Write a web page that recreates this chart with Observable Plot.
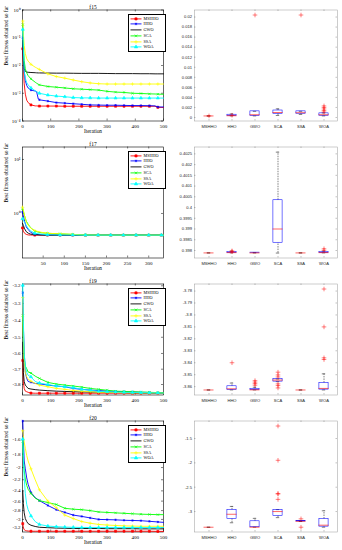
<!DOCTYPE html>
<html><head><meta charset="utf-8">
<script src="https://cdn.jsdelivr.net/npm/d3@7"></script>
<script src="https://cdn.jsdelivr.net/npm/@observablehq/plot@0.6"></script>
<style>
html,body{margin:0;padding:0;background:#fff;}
#root{position:relative;width:342px;height:550px;overflow:hidden;background:#fff;}
.legend{position:absolute;background:#fff;border:0.6px solid #000;font-family:"Liberation Serif",serif;font-size:4.2px;box-sizing:border-box;padding:0.5px 1px;}
.legend .row{display:flex;align-items:center;height:5.8px;}
.legend span{margin-left:1.5px;line-height:5.8px;}
</style></head><body><div id="root"></div>
<script>
// ---------------- data ----------------
const algos = ["MSHHO","HHO","GWO","SCA","SSA","WOA"];
const colors = ["#ff0000","#0000ff","#000000","#00ff00","#ffff00","#00ffff"];
const symbols = ["square","asterisk",null,"times","plus","triangle"];
const filled = [true,false,false,false,false,true];

// convergence curves
const f15Iter = [1,3,6,10,15,20,30,45,50,56,60,90,120,150,180,210,240,270,300,330,360,390,420,450,470,480,500];
const f15MSHHO = [0.04,0.0087,0.0022,9.3e-4,5.6e-4,4.6e-4,3.8e-4,3.5e-4,3.5e-4,3.45e-4,3.45e-4,3.45e-4,3.45e-4,3.4e-4,3.4e-4,3.4e-4,3.4e-4,3.4e-4,3.4e-4,3.4e-4,3.4e-4,3.4e-4,3.4e-4,3.4e-4,3.4e-4,3.1e-4,3.07e-4];
const f15HHO = [0.1,0.02,6.3e-3,2.85e-3,1.9e-3,1.55e-3,1.3e-3,1.2e-3,1.15e-3,6.2e-4,5.8e-4,5.2e-4,4.6e-4,4.4e-4,4.2e-4,4.0e-4,3.8e-4,3.75e-4,3.7e-4,3.7e-4,3.65e-4,3.6e-4,3.6e-4,3.55e-4,3.5e-4,3.2e-4,3.2e-4];
const f15GWO = [0.08,0.015,7.6e-3,6.2e-3,5.8e-3,5.7e-3,5.6e-3,5.5e-3,5.45e-3,5.4e-3,5.4e-3,5.35e-3,5.3e-3,5.3e-3,5.25e-3,5.2e-3,5.2e-3,5.2e-3,5.15e-3,5.1e-3,5.1e-3,5.1e-3,5.05e-3,5.05e-3,5.0e-3,5.0e-3,5.0e-3];
const f15SCA = [0.3,0.06,0.015,7.6e-3,5.4e-3,4.3e-3,3.3e-3,2.5e-3,2.3e-3,2.1e-3,2.0e-3,1.75e-3,1.65e-3,1.55e-3,1.45e-3,1.4e-3,1.35e-3,1.3e-3,1.17e-3,1.1e-3,1.07e-3,1.0e-3,9.8e-4,9.5e-4,9.4e-4,9.3e-4,9.2e-4];
const f15SSA = [0.4,0.14,0.053,0.027,0.0175,0.0144,0.011,8.7e-3,8.2e-3,7.6e-3,7.2e-3,5.0e-3,4.0e-3,3.5e-3,3.0e-3,2.6e-3,2.35e-3,2.2e-3,2.15e-3,2.15e-3,2.15e-3,2.15e-3,2.15e-3,2.15e-3,2.15e-3,2.15e-3,2.15e-3];
const f15WOA = [0.2,0.04,6e-3,3.5e-3,2.4e-3,2.0e-3,1.55e-3,1.23e-3,1.15e-3,1.05e-3,1.0e-3,8.6e-4,7.9e-4,7.5e-4,7.0e-4,6.8e-4,6.8e-4,6.7e-4,6.7e-4,6.7e-4,6.7e-4,6.7e-4,6.7e-4,6.7e-4,6.7e-4,6.7e-4,6.7e-4];

const f17Iter = [1,3,6,10,15,20,30,45,60,90,120,150,180,210,240,270,300,330,335];
const f17MSHHO = [0.54,0.47,0.43,0.41,0.40,0.399,0.398,0.398,0.398,0.398,0.398,0.398,0.398,0.398,0.398,0.398,0.398,0.398,0.398];
const f17HHO = [1.06,0.9,0.72,0.56,0.5,0.45,0.41,0.405,0.40,0.399,0.398,0.398,0.398,0.398,0.398,0.398,0.398,0.398,0.398];
const f17GWO = [0.66,0.6,0.52,0.46,0.43,0.415,0.405,0.40,0.399,0.398,0.398,0.398,0.398,0.398,0.398,0.398,0.398,0.398,0.398];
const f17SCA = [1.22,1.1,0.9,0.72,0.62,0.55,0.47,0.44,0.43,0.42,0.41,0.40,0.399,0.398,0.398,0.398,0.398,0.398,0.398];
const f17SSA = [1.31,1.15,0.9,0.69,0.6,0.54,0.48,0.45,0.43,0.42,0.41,0.40,0.399,0.398,0.398,0.398,0.398,0.398,0.398];
const f17WOA = [0.8,0.75,0.68,0.6,0.52,0.48,0.43,0.415,0.405,0.40,0.399,0.398,0.398,0.398,0.398,0.398,0.398,0.398,0.398];

const iter500 = [1,3,6,10,15,20,30,45,60,90,120,150,180,210,240,270,300,330,360,390,420,450,480,500];
const f19MSHHO = [-3.644,-3.782,-3.826,-3.844,-3.848,-3.852,-3.857,-3.858,-3.858,-3.858,-3.858,-3.858,-3.858,-3.858,-3.858,-3.858,-3.858,-3.858,-3.858,-3.858,-3.858,-3.858,-3.858,-3.858];
const f19HHO = [-3.238,-3.43,-3.59,-3.72,-3.76,-3.78,-3.785,-3.793,-3.795,-3.804,-3.81,-3.815,-3.826,-3.832,-3.837,-3.84,-3.844,-3.846,-3.848,-3.85,-3.852,-3.853,-3.855,-3.856];
const f19GWO = [-3.53,-3.72,-3.782,-3.804,-3.815,-3.826,-3.83,-3.834,-3.837,-3.841,-3.844,-3.846,-3.848,-3.849,-3.85,-3.851,-3.852,-3.853,-3.854,-3.855,-3.855,-3.856,-3.856,-3.857];
const f19SCA = [-3.371,-3.53,-3.634,-3.68,-3.697,-3.718,-3.725,-3.745,-3.76,-3.786,-3.797,-3.804,-3.81,-3.817,-3.826,-3.832,-3.838,-3.844,-3.846,-3.848,-3.85,-3.852,-3.854,-3.855];
const f19SSA = [-3.266,-3.47,-3.634,-3.72,-3.75,-3.765,-3.778,-3.793,-3.804,-3.815,-3.826,-3.832,-3.84,-3.844,-3.848,-3.852,-3.852,-3.853,-3.854,-3.855,-3.855,-3.856,-3.856,-3.857];
const f19WOA = [-3.197,-3.40,-3.60,-3.68,-3.72,-3.74,-3.75,-3.78,-3.79,-3.80,-3.81,-3.815,-3.82,-3.832,-3.838,-3.845,-3.848,-3.85,-3.852,-3.853,-3.854,-3.855,-3.856,-3.857];

const f20MSHHO = [-3.10,-3.20,-3.25,-3.27,-3.28,-3.285,-3.29,-3.29,-3.29,-3.29,-3.29,-3.29,-3.29,-3.29,-3.29,-3.29,-3.29,-3.29,-3.29,-3.29,-3.29,-3.29,-3.295,-3.295];
const f20HHO = [-1.39,-1.60,-1.90,-2.02,-2.17,-2.28,-2.43,-2.53,-2.59,-2.69,-2.78,-2.84,-2.90,-2.93,-2.965,-3.00,-3.005,-3.01,-3.02,-3.025,-3.03,-3.045,-3.06,-3.07];
const f20GWO = [-2.40,-2.65,-2.85,-2.98,-3.05,-3.10,-3.14,-3.17,-3.19,-3.20,-3.21,-3.215,-3.22,-3.22,-3.22,-3.22,-3.225,-3.225,-3.225,-3.225,-3.23,-3.23,-3.23,-3.23];
const f20SCA = [-1.63,-1.85,-2.05,-2.19,-2.30,-2.37,-2.45,-2.54,-2.59,-2.63,-2.67,-2.75,-2.77,-2.78,-2.80,-2.83,-2.84,-2.85,-2.86,-2.87,-2.88,-2.885,-2.89,-2.89];
const f20SSA = [-1.50,-1.56,-1.64,-1.72,-1.82,-1.90,-2.02,-2.20,-2.38,-2.60,-2.74,-2.90,-2.98,-3.05,-3.09,-3.12,-3.135,-3.145,-3.155,-3.16,-3.165,-3.165,-3.165,-3.165];
const f20WOA = [-1.60,-1.85,-2.17,-2.45,-2.67,-2.78,-2.92,-3.05,-3.12,-3.16,-3.175,-3.185,-3.19,-3.195,-3.195,-3.195,-3.195,-3.195,-3.195,-3.195,-3.195,-3.195,-3.195,-3.195];

// axis ticks (convergence)
const xTicks500 = [0,100,200,300,400,500];
const xTicksF17 = [50,100,150,200,250,300];
const f15YTicks = [1e-4,1e-3,1e-2,1e-1,1];
const f17YTicks = [1,10];
const f19YTicks = [-3.8,-3.7,-3.6,-3.5,-3.4,-3.3,-3.2];
const f20YTicks = [-3.2,-3,-2.8,-2.6,-2.4,-2.2,-2,-1.8,-1.6];

// box plot statistics
const f15Q1  = [0.000307,0.00031,0.00031,0.00072,0.00075,0.00035];
const f15Med = [0.000307,0.00035,0.00055,0.00099,0.00095,0.00055];
const f15Q3  = [0.000307,0.00055,0.00122,0.00139,0.00122,0.00082];
const f15Lo  = [0.000307,0.00031,0.00031,0.0004,0.0006,0.00031];
const f15Hi  = [0.000307,0.0007,0.00122,0.00172,0.00122,0.0009];
const f15OutAlgo = ["MSHHO","HHO","GWO","SSA","WOA","WOA","WOA","WOA","WOA"];
const f15OutVal  = [0.00031,0.00045,0.0204,0.0204,0.0011,0.0014,0.0017,0.002,0.0023];
const f15BoxTicks = [0,0.002,0.004,0.006,0.008,0.01,0.012,0.014,0.016,0.018,0.02];

const f17Q1  = [0.397887,0.397887,0.397887,0.39836,0.397887,0.397887];
const f17Med = [0.397887,0.3979,0.397887,0.399,0.397887,0.3979];
const f17Q3  = [0.397887,0.39793,0.3979,0.40034,0.397887,0.39794];
const f17Lo  = [0.397887,0.397887,0.397887,0.39788,0.397887,0.397887];
const f17Hi  = [0.397887,0.39797,0.3979,0.40258,0.397887,0.39797];
const f17OutAlgo = ["HHO","HHO","WOA","WOA"];
const f17OutVal  = [0.39798,0.39795,0.39808,0.39801];
const f17BoxTicks = [0.398,0.3985,0.399,0.3995,0.4,0.4005,0.401,0.4015,0.402,0.4025];

const f19Q1  = [-3.8628,-3.8628,-3.8628,-3.8558,-3.8628,-3.8625];
const f19Med = [-3.8628,-3.8618,-3.8627,-3.8545,-3.8628,-3.8615];
const f19Q3  = [-3.8628,-3.8597,-3.8618,-3.8536,-3.8628,-3.8569];
const f19Lo  = [-3.8628,-3.8628,-3.8628,-3.8558,-3.8628,-3.8628];
const f19Hi  = [-3.8628,-3.857,-3.8605,-3.8536,-3.8628,-3.8493];
const f19OutAlgo = ["HHO","GWO","GWO","GWO","GWO","SCA","SCA","SCA","SCA","SCA","SCA","WOA","WOA","WOA","WOA"];
const f19OutVal  = [-3.840,-3.855,-3.8562,-3.8575,-3.8588,-3.8479,-3.8502,-3.8519,-3.8577,-3.8591,-3.8611,-3.7783,-3.81,-3.8359,-3.8373];
const f19BoxTicks = [-3.86,-3.85,-3.84,-3.83,-3.82,-3.81,-3.8,-3.79,-3.78];

const f20Q1  = [-3.322,-3.153,-3.322,-3.09,-3.203,-3.31];
const f20Med = [-3.322,-3.056,-3.322,-3.0,-3.2,-3.28];
const f20Q3  = [-3.322,-2.965,-3.20,-2.97,-3.197,-3.153];
const f20Lo  = [-3.322,-3.23,-3.322,-3.125,-3.203,-3.322];
const f20Hi  = [-3.322,-2.895,-3.14,-2.96,-3.197,-2.985];
const f20OutAlgo = ["SCA","SCA","SCA","SCA","SCA","SSA","SSA"];
const f20OutVal  = [-1.243,-1.947,-2.63,-2.64,-2.75,-3.15,-3.322];
const f20BoxTicks = [-3,-2.5,-2,-1.5];

// ---------------- layout ----------------
const root = document.getElementById("root");
const ROW = 137, FT = 9.5, FH = 111;
const sup = {"-":"⁻","0":"⁰","1":"¹","2":"²","3":"³","4":"⁴"};
const powFmt = d => "10" + String(Math.round(Math.log10(d))).split("").map(c => sup[c]).join("");

function place(el, left, top) {
  el.style.position = "absolute"; el.style.left = left + "px"; el.style.top = top + "px";
  root.appendChild(el);
}

function leftPanel(r, c) {
  const top = ROW * r, H = (r === 3 ? 550 : top + ROW) - top;
  const FW = 141;
  const marks = [
    Plot.frame({stroke: "#000", strokeWidth: 0.6}),
    Plot.tickX(c.xTicks, {x: d => d, insetTop: FH - 2, stroke: "#000", strokeWidth: 0.5}),
    Plot.tickX(c.xTicks, {x: d => d, insetBottom: FH - 2, stroke: "#000", strokeWidth: 0.5}),
    Plot.tickY(c.yTicks, {y: d => d, insetRight: FW - 2, stroke: "#000", strokeWidth: 0.5}),
    Plot.tickY(c.yTicks, {y: d => d, insetLeft: FW - 2, stroke: "#000", strokeWidth: 0.5})
  ];
  algos.forEach((a, k) => {
    const rows = c.iter.map((it, i) => ({it, v: c.series[k][i]}));
    marks.push(Plot.line(rows, {x: "it", y: "v", stroke: colors[k], strokeWidth: 0.9}));
    if (symbols[k]) marks.push(Plot.dot(rows.filter(d => d.it === 1 || d.it % 30 === 0),
      {x: "it", y: "v", symbol: symbols[k], r: 1.15, stroke: colors[k], fill: filled[k] ? colors[k] : "none", strokeWidth: 0.6}));
  });
  marks.push(Plot.text([c.title], {frameAnchor: "top", lineAnchor: "bottom", dy: -1.5, fontSize: 5.5}));
  marks.push(Plot.text(["Best fitness obtained so far"], {frameAnchor: "left", dx: -16, rotate: -90, fontSize: 5.5}));
  marks.push(Plot.text(["Iteration"], {frameAnchor: "bottom", dy: 12, fontSize: 5.3}));
  const svg = Plot.plot({
    width: 170, height: H,
    marginLeft: 22, marginRight: 7, marginTop: FT, marginBottom: H - FT - FH,
    style: {fontFamily: '"Liberation Serif", serif', fontSize: "5px", background: "transparent", color: "#000"},
    x: {domain: c.xDomain, ticks: c.xTicks, tickFormat: d => String(d), tickSize: 0, tickPadding: 3.5, label: null},
    y: {type: "log", domain: c.yDomain, ticks: c.yTicks, tickFormat: c.yFmt, tickSize: 0, tickPadding: 2, label: null},
    marks
  });
  place(svg, 0, top);
  // legend
  const lg = d3.select(root).append("div").attr("class", "legend")
    .style("left", "128px").style("top", (top + FT + 4.5) + "px").style("width", "38px");
  algos.forEach((a, k) => {
    const row = lg.append("div").attr("class", "row");
    const s = row.append("svg").attr("width", 12).attr("height", 5.8);
    s.append("line").attr("x1", 0.5).attr("x2", 11.5).attr("y1", 2.9).attr("y2", 2.9)
      .attr("stroke", colors[k]).attr("stroke-width", 0.9);
    if (symbols[k]) {
      const sym = {square: d3.symbolSquare, asterisk: d3.symbolAsterisk, times: d3.symbolTimes, plus: d3.symbolPlus, triangle: d3.symbolTriangle}[symbols[k]];
      s.append("path").attr("d", d3.symbol(sym, 5)()).attr("transform", "translate(6,2.9)")
        .attr("fill", filled[k] ? colors[k] : "none").attr("stroke", colors[k]).attr("stroke-width", 0.6);
    }
    row.append("span").text(a);
  });
}

function rightPanel(r, c) {
  const top = ROW * r, H = (r === 3 ? 550 : top + ROW) - top;
  const FW = 143;
  const rows = algos.map((a, i) => ({algo: a, q1: c.q1[i], med: c.med[i], q3: c.q3[i], lo: c.lo[i], hi: c.hi[i]}));
  const outs = c.outAlgo.map((a, i) => ({algo: a, v: c.outVal[i]}));
  const svg = Plot.plot({
    width: 172, height: H,
    marginLeft: 24, marginRight: 5, marginTop: FT, marginBottom: H - FT - FH,
    style: {fontFamily: '"Liberation Sans", Arial, sans-serif', fontSize: "4.1px", background: "transparent", color: "#262626"},
    x: {domain: algos, padding: 0, tickSize: 0, tickPadding: 4.5, label: null},
    y: {domain: c.yDomain, ticks: c.yTicks, tickFormat: d => String(d), tickSize: 0, tickPadding: 2.5, label: null},
    marks: [
      Plot.frame({stroke: "#9a9a9a", strokeWidth: 0.5}),
      Plot.tickY(c.yTicks, {y: d => d, insetRight: FW - 1.5, stroke: "#666", strokeWidth: 0.4}),
      Plot.tickY(c.yTicks, {y: d => d, insetLeft: FW - 1.5, stroke: "#666", strokeWidth: 0.4}),
      Plot.tickX(algos, {x: d => d, insetTop: FH - 1.5, stroke: "#666", strokeWidth: 0.4}),
      Plot.tickX(algos, {x: d => d, insetBottom: FH - 1.5, stroke: "#666", strokeWidth: 0.4}),
      Plot.ruleX(rows, {x: "algo", y1: "q3", y2: "hi", stroke: "#000", strokeWidth: 0.5, strokeDasharray: "1.5,1"}),
      Plot.ruleX(rows, {x: "algo", y1: "lo", y2: "q1", stroke: "#000", strokeWidth: 0.5, strokeDasharray: "1.5,1"}),
      Plot.tickY(rows, {x: "algo", y: "hi", stroke: "#000", strokeWidth: 0.5, insetLeft: 9.8, insetRight: 9.8}),
      Plot.tickY(rows, {x: "algo", y: "lo", stroke: "#000", strokeWidth: 0.5, insetLeft: 9.8, insetRight: 9.8}),
      Plot.barY(rows, {x: "algo", y1: "q1", y2: "q3", fill: "none", stroke: "#0000ff", strokeWidth: 0.55, insetLeft: 6.9, insetRight: 6.9}),
      Plot.tickY(rows, {x: "algo", y: "med", stroke: "#ff0000", strokeWidth: 0.6, insetLeft: 6.5, insetRight: 6.5}),
      Plot.dot(outs, {x: "algo", y: "v", symbol: "plus", r: 1.6, stroke: "#ff0000", strokeWidth: 0.5})
    ]
  });
  place(svg, 170, top);
}

leftPanel(0, {title: "f15", iter: f15Iter, series: [f15MSHHO,f15HHO,f15GWO,f15SCA,f15SSA,f15WOA],
  xDomain: [0,500], xTicks: xTicks500, yDomain: [1e-4,1], yTicks: f15YTicks, yFmt: powFmt});
leftPanel(1, {title: "f17", iter: f17Iter, series: [f17MSHHO,f17HHO,f17GWO,f17SCA,f17SSA,f17WOA],
  xDomain: [1,335], xTicks: xTicksF17, yDomain: [0.15,17], yTicks: f17YTicks, yFmt: powFmt});
leftPanel(2, {title: "f19", iter: iter500, series: [f19MSHHO,f19HHO,f19GWO,f19SCA,f19SSA,f19WOA],
  xDomain: [0,500], xTicks: xTicks500, yDomain: [-3.87,-3.19], yTicks: f19YTicks, yFmt: d => String(d)});
leftPanel(3, {title: "f20", iter: iter500, series: [f20MSHHO,f20HHO,f20GWO,f20SCA,f20SSA,f20WOA],
  xDomain: [0,500], xTicks: xTicks500, yDomain: [-3.31,-1.39], yTicks: f20YTicks, yFmt: d => String(d)});

rightPanel(0, {q1: f15Q1, med: f15Med, q3: f15Q3, lo: f15Lo, hi: f15Hi, outAlgo: f15OutAlgo, outVal: f15OutVal, yDomain: [-0.0007,0.0214], yTicks: f15BoxTicks});
rightPanel(1, {q1: f17Q1, med: f17Med, q3: f17Q3, lo: f17Lo, hi: f17Hi, outAlgo: f17OutAlgo, outVal: f17OutVal, yDomain: [0.39765,0.40282], yTicks: f17BoxTicks});
rightPanel(2, {q1: f19Q1, med: f19Med, q3: f19Q3, lo: f19Lo, hi: f19Hi, outAlgo: f19OutAlgo, outVal: f19OutVal, yDomain: [-3.867,-3.7741], yTicks: f19BoxTicks});
rightPanel(3, {q1: f20Q1, med: f20Med, q3: f20Q3, lo: f20Lo, hi: f20Hi, outAlgo: f20OutAlgo, outVal: f20OutVal, yDomain: [-3.42,-1.14], yTicks: f20BoxTicks});
</script></body></html>
